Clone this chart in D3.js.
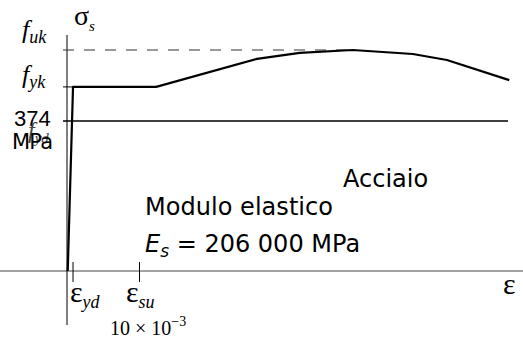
<!DOCTYPE html>
<html>
<head>
<meta charset="utf-8">
<script src="https://cdn.jsdelivr.net/npm/d3@7"></script>
<style>
  body { margin: 0; background: #fff; }
  svg { display: block; }
  .serif { font-family: "Liberation Serif", "Times New Roman", serif; }
  .comic { font-family: "DejaVu Sans", sans-serif; }
</style>
</head>
<body>
<div id="CHART"></div>
<script>
// strain in units of 10^-3 (sketch scale), stress in MPa
const curveStrain = [0.1, 0.83, 12.3, 26.2, 32.1, 39.4, 47.7, 52.4, 61.0];
const curveStress = [0, 459, 459, 529, 544, 551, 541, 526, 476];
const fyd = 374, fyk = 459, fuk = 551;
const epsYd = 0.83, epsSu = 10;
const yLabels = ["f", "f", "374", "MPa"];

const W = 523, H = 338;
const svg = d3.select("#CHART").append("svg").attr("width", W).attr("height", H);

const x = d3.scaleLinear().domain([0, 10]).range([67, 139.5]);
const y = d3.scaleLinear().domain([0, fyd]).range([271, 121]);

// axes
svg.append("line").attr("x1", 0).attr("x2", W).attr("y1", y(0)).attr("y2", y(0))
  .attr("stroke", "#444").attr("stroke-width", 1);
svg.append("line").attr("x1", x(0)).attr("x2", x(0)).attr("y1", 35).attr("y2", 325)
  .attr("stroke", "#000").attr("stroke-width", 1);

// fuk dashed
svg.append("line").attr("x1", x(0) - 4).attr("x2", x(39.4)).attr("y1", y(fuk)).attr("y2", y(fuk))
  .attr("stroke", "#333").attr("stroke-width", 1.2).attr("stroke-dasharray", "11,10");
// fyk tick
svg.append("line").attr("x1", x(0) - 4).attr("x2", x(0.83)).attr("y1", y(fyk)).attr("y2", y(fyk))
  .attr("stroke", "#000").attr("stroke-width", 1);
// fyd line
svg.append("line").attr("x1", x(0) - 4).attr("x2", 508).attr("y1", y(fyd)).attr("y2", y(fyd))
  .attr("stroke", "#000").attr("stroke-width", 1.6);

// x ticks
[epsYd, epsSu].forEach(v => {
  svg.append("line").attr("x1", x(v)).attr("x2", x(v)).attr("y1", 262).attr("y2", 282)
    .attr("stroke", "#000").attr("stroke-width", 1);
});

// stress-strain curve
const pts = curveStrain.map((e, i) => [e, curveStress[i]]);
svg.append("path")
  .attr("d", d3.line().x(d => x(d[0])).y(d => y(d[1]))(pts))
  .attr("fill", "none").attr("stroke", "#000").attr("stroke-width", 2.2)
  .attr("stroke-linejoin", "round");

// labels
function subLabel(tx, ty, main, sub, size, italicMain, subSize) {
  const t = svg.append("text").attr("class", "serif").attr("x", tx).attr("y", ty)
    .style("font-size", size + "px");
  t.append("tspan").text(main).style("font-style", italicMain ? "italic" : "normal");
  t.append("tspan").text(sub).style("font-style", "italic").style("font-size", (subSize || size * 0.62) + "px")
    .attr("dy", size * 0.2);
  return t;
}
subLabel(74, 25, "σ", "s", 28, false, 15);
subLabel(22, 38, yLabels[0], "uk", 26, true, 18);
subLabel(22, 83, yLabels[1], "yk", 26, true, 18);

svg.append("text").attr("x", 14).attr("y", 126).style("font-family", "Liberation Sans, Arial, sans-serif")
  .style("font-size", "22px").text(yLabels[2]);
subLabel(28, 138, "f", "yd", 24, true, 15).attr("fill", "#444");
svg.append("text").attr("class", "comic").attr("x", 12).attr("y", 149)
  .style("font-size", "21px").attr("textLength", 41).text(yLabels[3]);

subLabel(70, 302, "ε", "yd", 30, false, 18);
subLabel(126, 302, "ε", "su", 30, false, 18);
subLabel(503, 294, "ε", "", 30, false);

const sci = svg.append("text").attr("class", "serif").attr("x", 110).attr("y", 335).style("font-size", "20px");
sci.append("tspan").text("10 × 10");
sci.append("tspan").text("−3").style("font-size", "14px").attr("dy", -9);

svg.append("text").attr("class", "comic").attr("x", 343).attr("y", 187)
  .style("font-size", "24px").text("Acciaio");
svg.append("text").attr("class", "comic").attr("x", 145).attr("y", 215)
  .style("font-size", "24px").attr("textLength", 188).text("Modulo elastico");

const es = svg.append("text").attr("class", "comic").attr("x", 145).attr("y", 252).style("font-size", "24px");
es.append("tspan").text("E").style("font-style", "italic");
es.append("tspan").text("s").style("font-style", "italic").style("font-size", "17px").attr("dy", 5);
es.append("tspan").text(" = 206 000 MPa").attr("dy", -5);
</script>
</body>
</html>
